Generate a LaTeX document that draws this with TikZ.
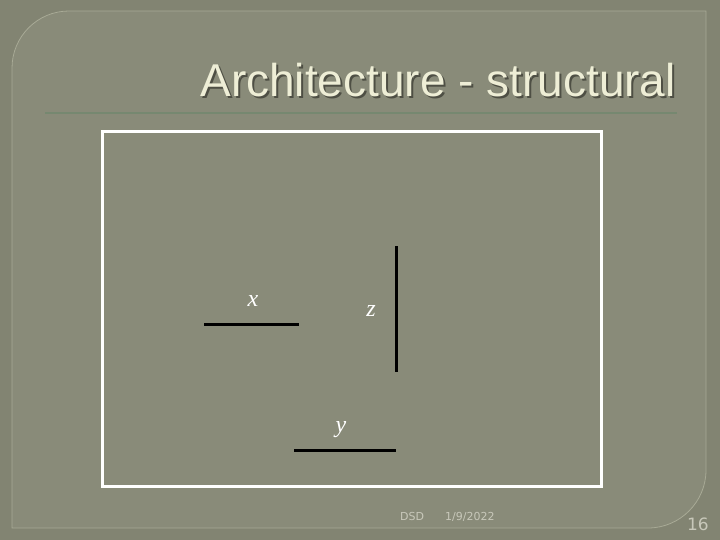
\documentclass[tikz,border=0pt]{standalone}
\usepackage{fontspec}
\setmainfont{Liberation Serif}
\newfontfamily\titlefont{Liberation Sans}
\newfontfamily\footfont{DejaVu Sans}
\definecolor{outerbg}{RGB}{130,132,114}
\definecolor{panelbg}{RGB}{137,139,121}
\definecolor{panelline}{RGB}{168,170,150}
\definecolor{titlecol}{RGB}{238,238,214}
\definecolor{shadowcol}{RGB}{78,79,68}
\definecolor{rulecol}{RGB}{118,136,112}
\definecolor{footcol}{RGB}{200,200,186}
\newcommand{\shadowtext}[1]{\makebox[0pt][l]{\hspace{2pt}\raisebox{-2pt}[0pt][0pt]{\color{shadowcol}#1}}#1}
\tikzset{
  seg/.style={line width=3pt, black},
  lbl/.style={text=white, font=\fontsize{24}{24}\selectfont\itshape, inner sep=0pt},
  foot/.style={text=footcol, inner sep=0pt},
}
\begin{document}
\begin{tikzpicture}[x=1pt,y=-1pt]
\useasboundingbox (0,0) rectangle (720,540);
\fill[outerbg] (0,0) rectangle (720,540);
\draw[panelline, fill=panelbg, line width=0.8pt]
  (12,68) arc[start angle=180, end angle=270, radius=57] -- (706,11) -- (706,470)
  arc[start angle=0, end angle=90, radius=58] -- (12,528) -- cycle;
% title
\node (title) [anchor=base east, inner sep=0pt, text=titlecol] at (676,96.5)
  {\titlefont\fontsize{46}{46}\selectfont\shadowtext{Architecture - structural}};
\draw[rulecol, line width=2pt] (45,113) -- (677,113);
% frame
\node (frame) [draw=white, line width=3pt, minimum width=499pt, minimum height=354pt, inner sep=0pt] at (351.5,309) {};
% segments
\coordinate (xa) at (204,324); \coordinate (xb) at (299,324);
\coordinate (za) at (396,246); \coordinate (zb) at (396,372);
\coordinate (ya) at (294,450); \coordinate (yb) at (396,450);
\draw[seg] (xa) -- (xb);
\draw[seg] (za) -- (zb);
\draw[seg] (ya) -- (yb);
\node (lx) [lbl] at (253,301) {x};
\node (lz) [lbl] at (371,311) {z};
\node (ly) [lbl] at (341,430) {y};
% footer
\node (dsd) [foot, anchor=base west] at (400,520) {\footfont\fontsize{11}{11}\selectfont DSD};
\node (date) [foot, anchor=base west] at (445,520) {\footfont\fontsize{11}{11}\selectfont 1/9/2022};
\node (page) [foot, anchor=base east] at (709,530) {\footfont\fontsize{17}{17}\selectfont 16};
\end{tikzpicture}
\end{document}
